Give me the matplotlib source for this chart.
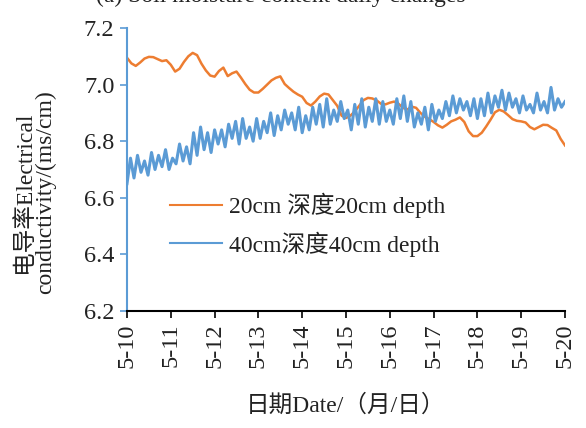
import numpy as np
import matplotlib
matplotlib.use("Agg")
import matplotlib.pyplot as plt
from matplotlib.lines import Line2D

plt.rcParams['font.family'] = ['Liberation Serif', 'Noto Sans CJK SC']

# 20cm depth, read every 0.1 day from 5-10 to 5-20
ec_20cm = [7.095, 7.075, 7.066, 7.078, 7.092, 7.098, 7.097, 7.090, 7.083, 7.086,
           7.070, 7.046, 7.056, 7.080, 7.100, 7.112, 7.104, 7.074, 7.050, 7.032,
           7.028, 7.048, 7.060, 7.030, 7.040, 7.046, 7.025, 7.002, 6.982, 6.972,
           6.972, 6.985, 7.000, 7.015, 7.024, 7.029, 7.002, 6.988, 6.975, 6.965,
           6.957, 6.935, 6.926, 6.940, 6.958, 6.968, 6.965, 6.945, 6.925, 6.890,
           6.882, 6.890, 6.905, 6.925, 6.945, 6.953, 6.951, 6.944, 6.932, 6.930,
           6.936, 6.940, 6.932, 6.918, 6.912, 6.922, 6.918, 6.900, 6.886, 6.878,
           6.868, 6.856, 6.848, 6.858, 6.870, 6.876, 6.884, 6.868, 6.835, 6.818,
           6.818, 6.830, 6.852, 6.876, 6.902, 6.911, 6.905, 6.892, 6.878, 6.872,
           6.870, 6.866, 6.850, 6.842, 6.850, 6.858, 6.857, 6.847, 6.838, 6.808,
           6.785]

# 40cm depth, read every 0.08 day
ec_40cm = [6.65, 6.74, 6.67, 6.75, 6.69, 6.73, 6.68, 6.76, 6.70, 6.75,
           6.71, 6.77, 6.70, 6.74, 6.72, 6.79, 6.73, 6.78, 6.72, 6.83,
           6.75, 6.85, 6.77, 6.83, 6.76, 6.84, 6.79, 6.84, 6.78, 6.86,
           6.81, 6.87, 6.79, 6.88, 6.81, 6.85, 6.80, 6.88, 6.81, 6.87,
           6.83, 6.90, 6.82, 6.89, 6.84, 6.91, 6.86, 6.90, 6.84, 6.92,
           6.83, 6.89, 6.84, 6.92, 6.86, 6.93, 6.85, 6.95, 6.86, 6.91,
           6.87, 6.94, 6.88, 6.91, 6.84, 6.93, 6.86, 6.95, 6.85, 6.92,
           6.87, 6.95, 6.86, 6.94, 6.87, 6.91, 6.86, 6.95, 6.88, 6.96,
           6.87, 6.94, 6.85, 6.90, 6.86, 6.92, 6.84, 6.93, 6.87, 6.91,
           6.88, 6.94, 6.89, 6.96, 6.90, 6.95, 6.91, 6.94, 6.89, 6.95,
           6.88, 6.95, 6.89, 6.97, 6.90, 6.96, 6.92, 6.98, 6.91, 6.97,
           6.92, 6.95, 6.90, 6.96, 6.91, 6.93, 6.90, 6.97, 6.91, 6.94,
           6.90, 6.99, 6.91, 6.95, 6.92, 6.94]

date_labels = ['5-10', '5-11', '5-12', '5-13', '5-14', '5-15',
               '5-16', '5-17', '5-18', '5-19', '5-20']
y_ticks = [6.2, 6.4, 6.6, 6.8, 7.0, 7.2]

c_20 = '#ed7d31'
c_40 = '#5b9bd5'

x20 = np.linspace(0, 10, len(ec_20cm))
x40 = np.linspace(0, 10, len(ec_40cm))

fig = plt.figure(figsize=(5.86, 4.28), dpi=100)
ax = fig.add_axes([0.2167, 0.2734, 0.7475, 0.6612])

ax.plot(x20, ec_20cm, color=c_20, lw=1.8)
ax.plot(x40, ec_40cm, color=c_40, lw=2.2)

ax.set_xlim(0, 10)
ax.set_ylim(6.2, 7.2)
ax.set_xticks(range(len(date_labels)))
ax.set_xticklabels(date_labels, rotation=90, fontsize=17.5)
ax.set_yticks(y_ticks)
ax.set_yticklabels(['%.1f' % v for v in y_ticks], fontsize=17.5)

for s in ['top', 'right']:
    ax.spines[s].set_visible(False)
ax.spines['left'].set_color(c_40)
ax.spines['left'].set_linewidth(1.5)
ax.spines['bottom'].set_color('black')
ax.spines['bottom'].set_linewidth(1.5)
ax.tick_params(axis='y', direction='out', length=5, width=1.2, color=c_40, labelcolor='#222222', pad=4)
ax.tick_params(axis='x', direction='out', length=5, width=1.2, color='black', labelcolor='#222222', pad=4)

ax.set_xlabel('日期Date/（月/日）', fontsize=17, labelpad=19, color='#222222')

fig.text(35 / 586, 1 - 192 / 428, '电导率Electrical\nconductivity/(ms/cm)',
         rotation=90, ha='center', va='center', multialignment='center',
         fontsize=17, linespacing=1.0, color='#222222')

fig.text(281 / 586, 1 - 2 / 428, '(a) Soil moisture content daily changes',
         ha='center', va='baseline', fontsize=17, color='#222222')

handles = [Line2D([], [], color=c_20, lw=1.5), Line2D([], [], color=c_40, lw=1.5)]
ax.legend(handles, ['20cm 深度20cm depth', '40cm深度40cm depth'],
          loc='upper left', bbox_to_anchor=(170 / 586, 1 - 193 / 428),
          bbox_transform=fig.transFigure, frameon=False, fontsize=17,
          handlelength=2.2, handletextpad=0.3, labelspacing=0.55,
          borderaxespad=0, borderpad=0, labelcolor='#222222')

fig.savefig('out.png', dpi=100)
